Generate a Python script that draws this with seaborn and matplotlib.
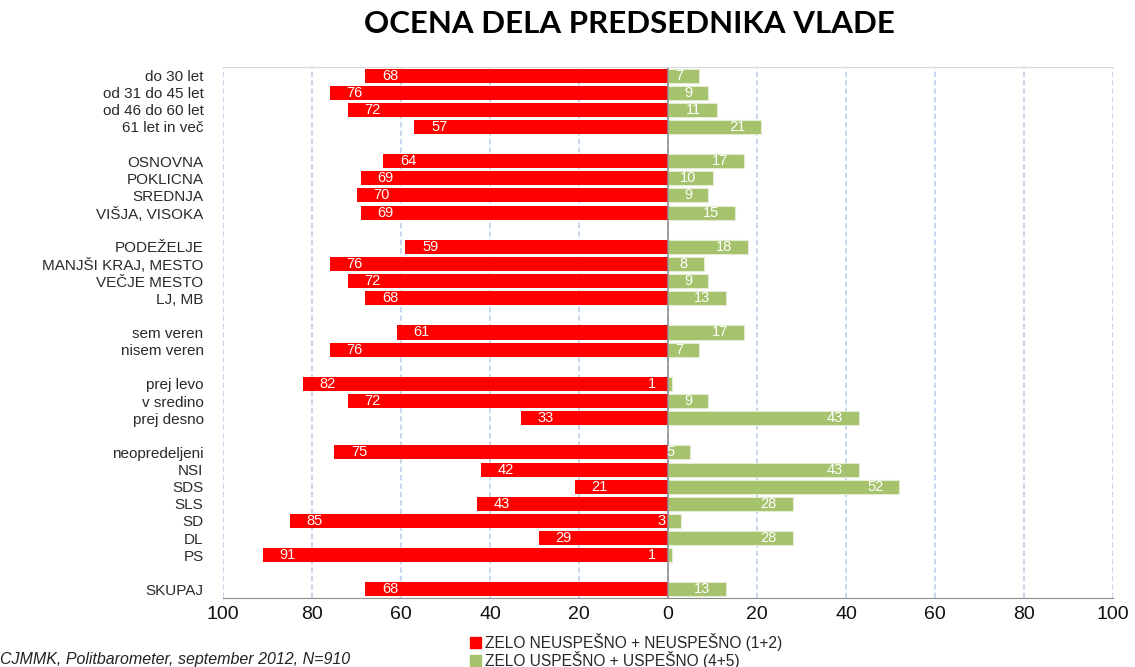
import matplotlib
matplotlib.use("Agg")
import matplotlib.pyplot as plt
import matplotlib.patches as mpatches
import seaborn as sns
import pandas as pd

categories = ["do 30 let", "od 31 do 45 let", "od 46 do 60 let", "61 let in več", " ",
              "OSNOVNA", "POKLICNA", "SREDNJA", "VIŠJA, VISOKA", "  ",
              "PODEŽELJE", "MANJŠI KRAJ, MESTO", "VEČJE MESTO", "LJ, MB", "   ",
              "sem veren", "nisem veren", "    ",
              "prej levo", "v sredino", "prej desno", "     ",
              "neopredeljeni", "NSI", "SDS", "SLS", "SD", "DL", "PS", "      ",
              "SKUPAJ"]
negative = [68, 76, 72, 57, None,
            64, 69, 70, 69, None,
            59, 76, 72, 68, None,
            61, 76, None,
            82, 72, 33, None,
            75, 42, 21, 43, 85, 29, 91, None,
            68]
positive = [7, 9, 11, 21, None,
            17, 10, 9, 15, None,
            18, 8, 9, 13, None,
            17, 7, None,
            1, 9, 43, None,
            5, 43, 52, 28, 3, 28, 1, None,
            13]
series_names = ["ZELO NEUSPEŠNO + NEUSPEŠNO (1+2)", "ZELO USPEŠNO + USPEŠNO (4+5)"]
colors = ["#FF0000", "#A5C26C"]
xticks = list(range(-100, 101, 20))

rows = []
for c, n, p in zip(categories, negative, positive):
    if n is not None:
        rows.append({"cat": c, "value": -n, "series": series_names[0]})
        rows.append({"cat": c, "value": p, "series": series_names[1]})
df = pd.DataFrame(rows)

sns.set_style("white")
plt.rcParams["font.family"] = ["Liberation Sans", "DejaVu Sans"]

fig = plt.figure(figsize=(11.35, 6.67), dpi=100)
ax = fig.add_axes([0.1965, 0.1034, 0.7841, 0.7962])

sns.barplot(data=df, y="cat", x="value", hue="series", order=categories,
            hue_order=series_names, palette=colors, dodge=False, width=0.82,
            orient="h", ax=ax, legend=False, saturation=1, linewidth=0,
            edgecolor="none")
for bar in ax.containers[1]:
    bar.set_edgecolor("#E4EDD3")
    bar.set_linewidth(0.8)

ax.set_xlim(-100, 100)
ax.set_ylim(len(categories) - 0.5, -0.5)
ax.set_xticks(xticks)
ax.set_xticklabels([str(abs(t)) for t in xticks], fontsize=14, color="#111111")
ax.xaxis.grid(True, linestyle=(0, (3.5, 2)), color="#B7CBE6", linewidth=1.1)
ax.yaxis.grid(False)
ax.set_axisbelow(True)
ax.axvline(0, color="#8C8C8C", linewidth=1.1, zorder=1.5)
ax.set_xlabel("")
ax.set_ylabel("")
ax.tick_params(axis="y", length=0, pad=14, labelsize=11, labelcolor="#2A2A2A")
ax.tick_params(axis="x", direction="in", length=5, color="#8C8C8C", width=1, pad=6)
for s in ["left", "right"]:
    ax.spines[s].set_visible(False)
ax.spines["top"].set_color("#D9D9D9")
ax.spines["bottom"].set_color("#8C8C8C")

for i, (c, n, p) in enumerate(zip(categories, negative, positive)):
    if n is None:
        continue
    ax.annotate(str(n), xy=(-n, i), xytext=(12, 0), textcoords="offset points",
                ha="left", va="center", color="white", fontsize=10.5, zorder=5)
    ax.annotate(str(p), xy=(p, i), xytext=(-11.5, 0), textcoords="offset points",
                ha="right", va="center", color="white", fontsize=10.5, zorder=5)

fig.text(0.555, 0.964, "OCENA DELA PREDSEDNIKA VLADE", ha="center", va="center",
         fontsize=22.5, fontweight="bold", family=["Lato", "DejaVu Sans"], color="black")

handles = [mpatches.Patch(color=colors[0]), mpatches.Patch(color=colors[1])]
fig.legend(handles, series_names, loc="upper left", bbox_to_anchor=(0.414, 0.051),
           frameon=False, fontsize=11.2, handlelength=0.7, handleheight=0.7,
           handletextpad=0.3, labelspacing=0.0, borderaxespad=0, borderpad=0)

fig.text(0.0, 0.0105, "CJMMK, Politbarometer, september 2012, N=910", ha="left",
         va="center", fontsize=11.5, style="italic", color="#222222")

fig.savefig("out.png", dpi=100)
